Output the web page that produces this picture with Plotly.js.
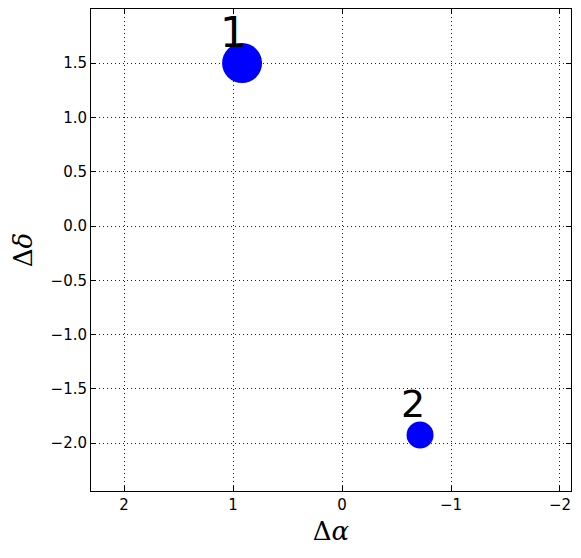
<!DOCTYPE html>
<html>
<head>
<meta charset="utf-8">
<script src="https://cdn.plot.ly/plotly-3.0.1.min.js"></script>
<style>body{margin:0;padding:0;background:#fff;}#chart{width:581px;height:558px;}</style>
</head>
<body>
<div id="chart"></div>
<script>
const labels = ["1", "2"];
const dAlpha = [0.917, -0.716];
const dDelta = [1.50, -1.925];
const markerSizes = [40, 27];
const labelSizes = [42, 38];
const labelYShift = [4, 7];
const xTicks = [2, 1, 0, -1, -2];
const yTicks = [-2.0, -1.5, -1.0, -0.5, 0.0, 0.5, 1.0, 1.5];

const trace = {
  x: dAlpha, y: dDelta, mode: 'markers', type: 'scatter',
  marker: {color: '#0000ff', size: markerSizes, opacity: 1, line: {width: 0}},
  hoverinfo: 'skip', showlegend: false, cliponaxis: false
};

const annotations = labels.map((t, i) => ({
  x: dAlpha[i], y: dDelta[i], xref: 'x', yref: 'y', text: t,
  showarrow: false, xanchor: 'right', yanchor: 'bottom',
  yshift: labelYShift[i], xshift: 7,
  font: {family: 'DejaVu Sans', size: labelSizes[i], color: '#000'}
}));

const axisCommon = {
  showline: true, linecolor: '#000', linewidth: 1, mirror: 'ticks',
  ticks: 'inside', ticklen: 5, tickwidth: 1, tickcolor: '#000',
  showgrid: true, gridcolor: '#222', gridwidth: 1, griddash: '1px,3px',
  zeroline: false, tickfont: {family: 'DejaVu Sans', size: 15, color: '#000'}
};

const layout = {
  width: 581, height: 558,
  margin: {l: 91, r: 10, t: 9, b: 67},
  paper_bgcolor: '#fff', plot_bgcolor: '#fff',
  xaxis: Object.assign({}, axisCommon, {
    range: [2.303, -2.101], tickvals: xTicks, ticktext: xTicks.map(v => v < 0 ? '\u2212' + Math.abs(v) : String(v)),
    title: {text: '\u0394<i>\u03b1</i>', font: {family: 'DejaVu Serif', size: 26, color: '#000'}, standoff: 8}
  }),
  yaxis: Object.assign({}, axisCommon, {
    range: [-2.44, 1.998], tickvals: yTicks, ticktext: yTicks.map(v => (v < 0 ? '\u2212' : '') + Math.abs(v).toFixed(1)),
    title: {text: '\u0394<i>\u03b4</i>', font: {family: 'DejaVu Serif', size: 26, color: '#000'}, standoff: 10}
  }),
  annotations: annotations
};

Plotly.newPlot('chart', [trace], layout, {displayModeBar: false, staticPlot: true});
</script>
</body>
</html>
